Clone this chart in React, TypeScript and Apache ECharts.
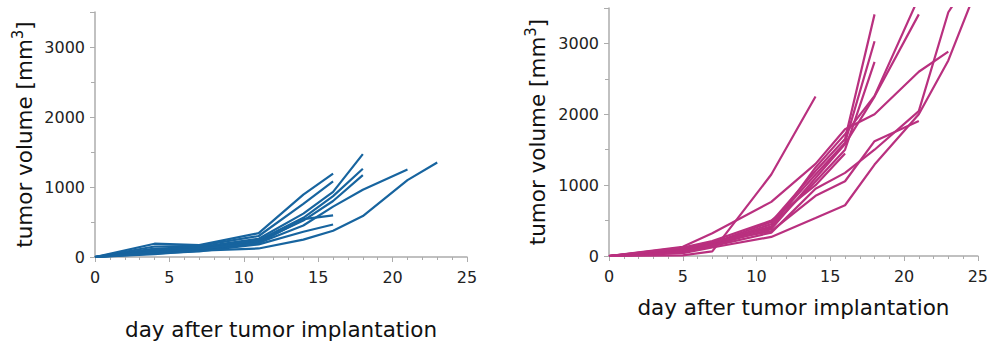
import React, { useEffect, useRef } from "react";
import * as echarts from "echarts";

// ---- Data ----
// Left panel (blue): measurement days shared by all mice; each mouse stops when removed
const leftDays = [0, 4, 7, 11, 14, 16, 18, 21, 23];
const blue1 = [0, 190, 170, 340, 890, 1190];
const blue2 = [0, 150, 160, 300, 760, 1080];
const blue3 = [0, 120, 140, 260, 620, 930, 1470];
const blue4 = [0, 100, 130, 240, 560, 870, 1260];
const blue5 = [0, 80, 110, 220, 520, 800, 1170];
const blue6 = [0, 60, 100, 200, 540, 595];
const blue7 = [0, 50, 80, 180, 360, 465];
const blue8 = [0, 70, 120, 200, 450, 720, 960, 1250];
const blue9 = [0, 40, 90, 122, 248, 374, 585, 1098, 1351];
const blueMice = [blue1, blue2, blue3, blue4, blue5, blue6, blue7, blue8, blue9];

// Right panel (magenta)
const rightDays = [0, 5, 7, 11, 14, 16, 18, 21, 23, 25];
const pinkA = [0, 90, 180, 480, 1200, 1650, 3410];
const pinkB = [0, 80, 170, 450, 1150, 1600, 3030];
const pinkC = [0, 70, 160, 420, 1050, 1500, 2740];
const pinkD = [0, 100, 190, 400, 1250, 1720, 2260, 3650];
const pinkE = [0, 60, 150, 380, 1100, 1580, 2250, 3410];
const pinkF = [0, 130, 320, 764, 1300, 1790, 2000, 2600, 2885];
const pinkG = [0, 110, 200, 350, 850, 1055, 1621, 1904];
const pinkH = [0, 50, 140, 330, 950, 1173, 1500, 2045, 3440, 4080];
const pinkI = [0, 40, 120, 269, 537, 716, 1290, 2000, 2760, 3816];
const pinkJ = [0, 120, 210, 500, 1000, 1447];
const pinkK = [0, 10, 65, 1150, 2250];
const pinkMice = [pinkA, pinkB, pinkC, pinkD, pinkE, pinkF, pinkG, pinkH, pinkI, pinkJ, pinkK];

const xTicks = [0, 5, 10, 15, 20, 25];
const yTicks = [0, 1000, 2000, 3000];

const xTitle = "day after tumor implantation";
const yTitle = "{a|tumor volume [mm}{s|3}{a|]}";

const BLUE = "#17649f";
const PINK = "#b9307f";
const FONT = "DejaVu Sans";
const AXIS_GREY = "#acacac";

export default function App() {
  const ref = useRef<HTMLDivElement>(null);

  useEffect(() => {
    if (!ref.current) return;
    const chart = echarts.init(ref.current, null, { renderer: "svg" });

    const mkX = (gridIndex: number, nameGap: number) => ({
      type: "value",
      gridIndex,
      min: xTicks[0],
      max: xTicks[xTicks.length - 1],
      interval: 5,
      name: xTitle,
      nameLocation: "middle",
      nameGap,
      nameTextStyle: { fontFamily: FONT, fontSize: 21.5, color: "#111" },
      axisLine: { show: true, onZero: false, lineStyle: { color: AXIS_GREY, width: 1.5 } },
      axisTick: { show: true, length: 5, lineStyle: { color: AXIS_GREY } },
      minorTick: { show: true, splitNumber: 5, length: 3, lineStyle: { color: AXIS_GREY } },
      splitLine: { show: false },
      axisLabel: { fontFamily: FONT, fontSize: 16, color: "#222", margin: 12 },
    });

    const mkY = (gridIndex: number, nameGap: number) => ({
      type: "value",
      gridIndex,
      min: 0,
      max: 3500,
      interval: 1000,
      name: yTitle,
      nameLocation: "middle",
      nameGap,
      nameTextStyle: {
        fontFamily: FONT,
        fontSize: 21.5,
        color: "#111",
        rich: {
          a: { fontFamily: FONT, fontSize: 21.5, color: "#111", lineHeight: 28 },
          s: { fontFamily: FONT, fontSize: 15, color: "#111", verticalAlign: "top", lineHeight: 16 },
        },
      },
      axisLine: { show: true, lineStyle: { color: AXIS_GREY, width: 1.5 } },
      axisTick: { show: true, length: 5, lineStyle: { color: AXIS_GREY } },
      minorTick: { show: true, splitNumber: 2, length: 4, lineStyle: { color: AXIS_GREY } },
      splitLine: { show: false },
      axisLabel: {
        fontFamily: FONT,
        fontSize: 16,
        color: "#222",
        margin: 10,
        formatter: (v: number) => (yTicks.includes(v) ? String(v) : ""),
      },
    });

    const mkSeries = (mice: number[][], days: number[], idx: number, color: string) =>
      mice.map((vals, i) => ({
        type: "line",
        name: `${idx === 0 ? "blue" : "pink"}-${i + 1}`,
        xAxisIndex: idx,
        yAxisIndex: idx,
        data: vals.map((v, j) => [days[j], v]),
        showSymbol: false,
        symbol: "none",
        clip: true,
        lineStyle: { color, width: 2.2 },
        itemStyle: { color },
      }));

    chart.setOption({
      animation: false,
      backgroundColor: "#ffffff",
      grid: [
        { left: 95, right: 524, top: 12, bottom: 84, containLabel: false },
        { left: 609, right: 11, top: 8, bottom: 89, containLabel: false },
      ],
      xAxis: [mkX(0, 61), mkX(1, 40)],
      yAxis: [mkY(0, 57), mkY(1, 58)],
      series: [
        ...mkSeries(blueMice, leftDays, 0, BLUE),
        ...mkSeries(pinkMice, rightDays, 1, PINK),
      ],
    });

    return () => chart.dispose();
  }, []);

  return (
    <div
      ref={ref}
      style={{ position: "fixed", left: 0, top: 0, width: 991, height: 345, background: "#fff" }}
    />
  );
}
